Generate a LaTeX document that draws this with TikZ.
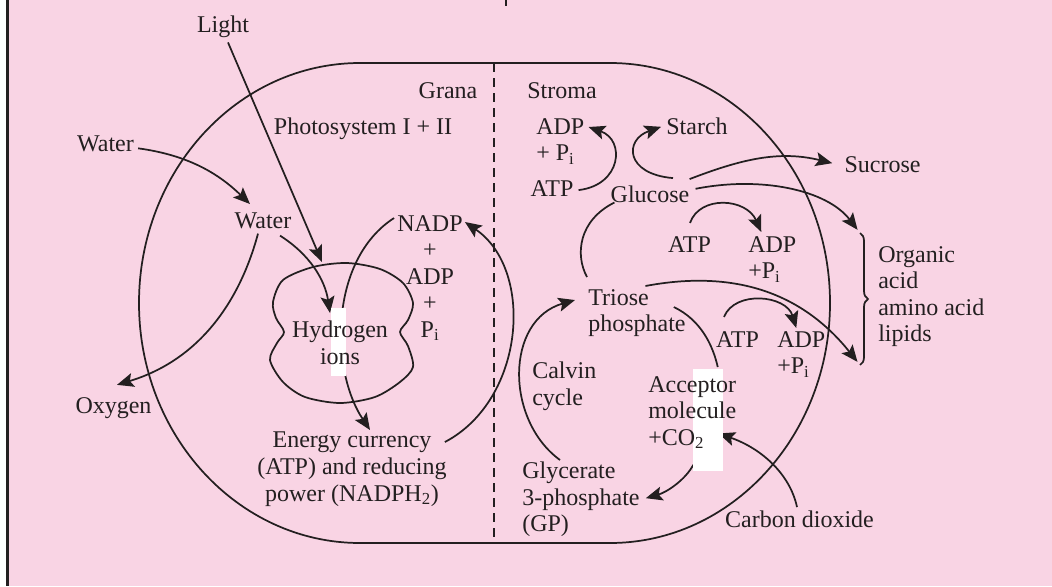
\documentclass[tikz,border=0pt]{standalone}
\usepackage{fontspec}
\setmainfont{Liberation Serif}
\usetikzlibrary{arrows.meta,calc,decorations.pathreplacing}
\definecolor{chloropink}{RGB}{249,212,228}
\definecolor{inkblack}{RGB}{35,31,32}
\pgfdeclarelayer{bg}
\pgfdeclarelayer{lines}
\pgfsetlayers{bg,lines,main}

\begin{document}
\begin{tikzpicture}[x=0.75pt,y=0.75pt,yscale=-1,xscale=1,
    every node/.style={inner sep=0.75pt, text=inkblack, font=\fontsize{18}{19.9}\selectfont},
    line/.style={draw=inkblack, line width=1.3pt},
    arr/.style={line, -{Stealth[length=12.5pt,width=10.5pt,inset=2.5pt]}},
    multi/.style={anchor=north west, align=left}]
    \useasboundingbox (0,0) rectangle (1052,586);

    % Text Node: grana side
    \node[anchor=base] (light) at (223,32) {Light};
    \node[anchor=base] (grana) at (448,98) {Grana};
    \node[anchor=base] (photo) at (363,134) {Photosystem I + II};
    \node[anchor=base] (waterout) at (105.5,151) {Water};
    \node[anchor=base] (waterin) at (263,228) {Water};
    \node[anchor=north, align=center] (nadp) at (430,214) {NADP\\+\\ADP\\+\\P\textsubscript{i}};
    \node[anchor=north, align=center] (hydro) at (340,320) {Hydrogen\\ions};
    \node[anchor=base] (oxygen) at (113.5,413) {Oxygen};
    \node[anchor=north, align=center] (energy) at (352,431) {Energy currency\\(ATP) and reducing\\power (NADPH\textsubscript{2})};
    % Text Node: stroma side
    \node[anchor=base] (stroma) at (562,98) {Stroma};
    \node[multi] (adptop) at (535,117) {ADP\\+ P\textsubscript{i}};
    \node[anchor=base] (atptop) at (552,196) {ATP};
    \node[anchor=base] (starch) at (697,134) {Starch};
    \node[anchor=base] (sucrose) at (882.5,172) {Sucrose};
    \node[anchor=base] (glucose) at (650,202) {Glucose};
    \node[anchor=base] (atpmid) at (689.5,252) {ATP};
    \node[multi] (adpmid) at (747,235) {ADP\\+P\textsubscript{i}};
    \node[multi] (organic) at (877,245) {Organic\\acid\\amino acid\\lipids};
    \node[multi] (triose) at (587,288) {Triose\\phosphate};
    \node[anchor=base] (atplow) at (737.5,347) {ATP};
    \node[multi] (adplow) at (776,330) {ADP\\+P\textsubscript{i}};
    \node[multi] (calvin) at (531,361) {Calvin\\cycle};
    \node[multi] (acceptor) at (647,375) {Acceptor\\molecule\\+CO\textsubscript{2}};
    \node[multi] (glycerate) at (521,461) {Glycerate\\3-phosphate\\(GP)};
    \node[anchor=base] (carbon) at (799.5,527) {Carbon dioxide};

    \coordinate (blobtop) at (322,262);
    \coordinate (bt) at (860,233);
    \coordinate (bb) at (860,365);

    %Shape: page
    \begin{pgfonlayer}{bg}
    \fill[white] (0,0) rectangle (8,586);
    \fill[chloropink] (8,0) rectangle (1052,586);
    \draw[inkblack, line width=1.9pt] (7.5,0) -- (7.5,586);
    \draw[inkblack, line width=1.5pt] (506,0) -- (506,6);
    \end{pgfonlayer}

    \begin{pgfonlayer}{lines}
    %Shape: chloroplast
    \draw[line] (360,63) -- (610,63) arc[start angle=-90, end angle=90, x radius=220, y radius=240] -- (360,543) arc[start angle=90, end angle=270, x radius=221, y radius=240] -- cycle;
    \draw[line, dash pattern=on 6.75pt off 4.5pt] (494,63) -- (494,540);
    %Shape: thylakoid
    \draw[line] plot[smooth cycle] coordinates {(283,280) (313,267) (347,263) (380,269) (403,283) (413,303) (408,320) (400,332) (408,346) (413,367) (400,382) (375,397) (340,403) (305,397) (283,382) (270,360) (277,343) (284,332) (276,318) (273,302)};
    %Shape: brace
    \draw[line, decorate, decoration={brace, amplitude=6pt}] (bt) -- (bb);

    %Curve Lines: light reaction
    \draw[arr] ($(light.south)+(5,4)$) -- (blobtop);
    \draw[arr] ($(waterout.east)+(3,5)$) .. controls +(52,7) and +(-30,-29) .. ($(waterin.north)+(-13,-7)$);
    \draw[arr] ($(waterin.south)+(17,6)$) .. controls +(30,19) and +(-5,-33) .. ($(hydro.north)+(-10,-7)$);
    \draw[arr] ($(waterin.south)+(-5,4)$) .. controls +(-18,67) and +(83,-25) .. ($(oxygen.north)+(3.5,-11)$);
    \draw[arr] ($(nadp.north west)+(-2,4)$) .. controls +(-65,42) and +(-40,-60) .. ($(energy.north)+(18,-1)$);
    \draw[arr] ($(energy.north east)+(-3,11)$) .. controls +(80,-42) and +(70,48) .. ($(nadp.north east)+(1,8)$);

    %Curve Lines: dark reaction
    \draw[arr] ($(atptop.east)+(4,2)$) .. controls +(43,-5) and +(37,13) .. ($(adptop.north east)+(3,10)$);
    \draw[arr] ($(glucose.north)+(23,-6)$) .. controls +(-48,-4) and +(-37,13) .. ($(starch.west)+(-4,1)$);
    \draw[arr] ($(glucose.north east)+(-1,-5)$) .. controls +(52,-20) and +(-53,-13) .. ($(sucrose.west)+(-11,-1)$);
    \draw[arr, shorten >=3pt] ($(glucose.east)+(5,-5)$) .. controls +(66,-13) and +(-33,-43) .. (bt);
    \draw[line] ($(glucose.south west)+(5,-1)$) .. controls +(-36,18) and +(-12,-22) .. ($(triose.north west)+(0,-11)$);
    \draw[arr] ($(atpmid.north)+(0.5,-12)$) .. controls +(10,-28) and +(-15,-34) .. ($(adpmid.north)+(-11,-3)$);
    \draw[arr, shorten >=3pt] ($(triose.north)+(8.5,-2)$) .. controls +(85,-16) and +(-60,-75) .. (bb);
    \draw[arr] ($(atplow.north)+(-13.5,-13)$) .. controls +(11,-27) and +(-10,-33) .. ($(adplow.north)+(-5,-2)$);
    \draw[line] ($(triose.east)+(-13,-6)$) .. controls +(27,13) and +(-5,-22) .. ($(acceptor.north)+(25.5,-8)$);
    \draw[arr] ($(acceptor.south)+(1,15)$) .. controls +(-8,15) and +(21,-6) .. ($(glycerate.east)+(5,-1.5)$);
    \draw[arr] ($(carbon.north)+(-2.5,-2)$) .. controls +(-7,-33) and +(43,15) .. ($(acceptor.east)+(-19,21)$);
    \draw[arr] ($(glycerate.north west)+(39,-1)$) .. controls +(-55,-40) and +(-70,20) .. ($(triose.west)+(-12,-13)$);

    %Shape: white patches
    \fill[white] (331,308) rectangle (346,376);
    \fill[white] (693,369) rectangle (723,471);
    \end{pgfonlayer}
\end{tikzpicture}
\end{document}
